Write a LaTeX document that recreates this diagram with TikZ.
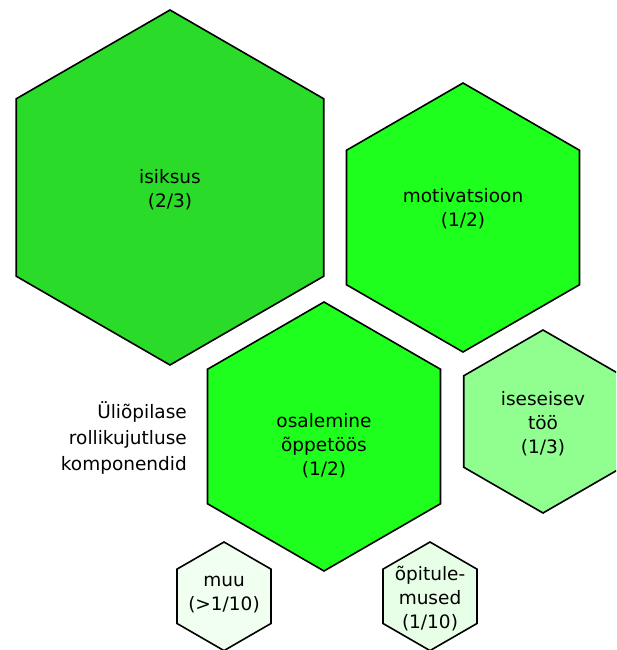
\documentclass[tikz,border=0pt]{standalone}
\usepackage{fontspec}
\setmainfont{DejaVu Sans}
\usetikzlibrary{shapes.geometric}
\definecolor{cA}{RGB}{42,219,42}
\definecolor{cB}{RGB}{30,255,30}
\definecolor{cD}{RGB}{144,255,144}
\definecolor{cE}{RGB}{240,255,240}
\definecolor{cF}{RGB}{230,255,230}
\begin{document}
\begin{tikzpicture}[x=1pt,y=-1pt,
  hex/.style={regular polygon, regular polygon sides=6, shape border rotate=30,
    draw=black, line width=1.6pt, inner sep=0pt, outer sep=0pt, line join=miter},
  lbl/.style={align=center, inner sep=0pt, font=\fontsize{18.5}{24}\selectfont}]
\useasboundingbox (0,0) rectangle (616,650);
\clip (0,0) rectangle (616,650);
\fill[white] (0,0) rectangle (616,650);
\node[hex, fill=cA, minimum size=355pt] (isiksus) at (170,187.5) {};
\node[hex, fill=cB, minimum size=269pt] (motiv) at (463,217.5) {};
\node[hex, fill=cB, minimum size=269pt] (osal) at (324,436.5) {};
\node[hex, fill=cD, minimum size=183pt] (isesei) at (543,421.5) {};
\node[hex, fill=cE, minimum size=108.6pt] (muu) at (224,596.3) {};
\node[hex, fill=cF, minimum size=108.6pt] (opit) at (430,596.3) {};
\node[lbl] (tA) at (170,190) {isiksus\\(2/3)};
\node[lbl] (tB) at (463,209) {motivatsioon\\(1/2)};
\node[lbl] (tC) at (324,446) {osalemine\\õppetöös\\(1/2)};
\node[lbl] (tD) at (543,424) {iseseisev\\töö\\(1/3)};
\node[lbl] (tE) at (224,595) {muu\\(>1/10)};
\node[lbl] (tF) at (430,599) {õpitule-\\mused\\(1/10)};
\node[lbl, align=right, anchor=east, font=\fontsize{18.5}{26}\selectfont] (tL) at (187,438) {Üliõpilase\\rollikujutluse\\komponendid};
\end{tikzpicture}
\end{document}
